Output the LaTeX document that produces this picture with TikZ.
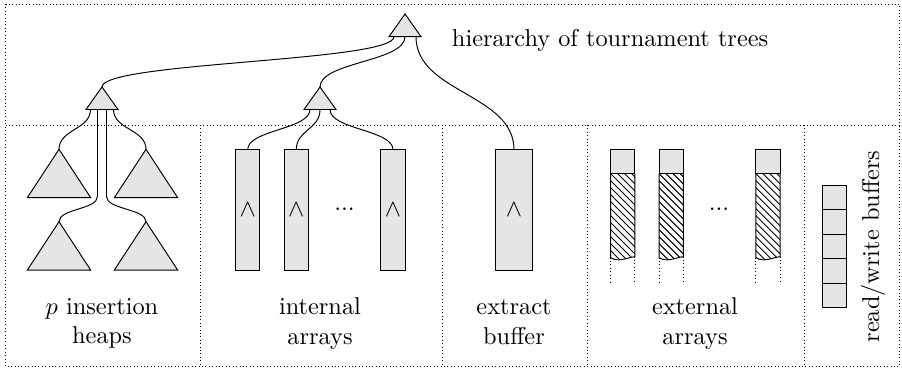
\documentclass[tikz,border=0pt]{standalone}
\usepackage{amsmath}
\usepackage{tikz}
\usetikzlibrary{calc}
\usetikzlibrary{positioning}

% tournament tree: name, apex, half width, height
\newcommand{\tourtree}[4]{%
  \filldraw[tree] (#2) coordinate (#1) -- ++(-#3,#4) -- ++(#3,0) coordinate (#1-b) -- ++(#3,0) -- cycle;
}

\begin{document}
\begin{tikzpicture}[x=0.4107pt,y=-0.4107pt,
    frame/.style={densely dotted},
    tree/.style={fill=black!10,draw=black},
    arr/.style={draw,fill=black!10,minimum width=10pt,minimum height=49.5pt,inner sep=0pt,outer sep=0pt},
    cell/.style={draw,fill=black!10,minimum width=10pt,minimum height=10pt,inner sep=0pt,outer sep=0pt},
    lbl/.style={align=center,inner sep=0pt}]
  % Constants
  \pgfmathsetmacro\hw{31.7}
  \pgfmathsetmacro\hh{48.4}
  % Boundary
  \path[use as bounding box] (0,0) rectangle (902,369);
  % Compartments
  \draw[frame] (5.5,4) rectangle (899.5,366.5);
  \draw[frame] (5.5,125) -- (899.5,125);
  \foreach \x in {200,442,587,804}
    \draw[frame] (\x,125) -- (\x,366.5);
  % Tournament trees
  \tourtree{root}{405,14}{16}{22.7}
  \tourtree{ins}{102,87}{16}{22.5}
  \tourtree{int}{320,87}{16}{22.5}
  % Insertion heaps
  \tourtree{h1}{59,149.3}{\hw}{\hh}
  \tourtree{h2}{146,149.3}{\hw}{\hh}
  \tourtree{h3}{59,221.7}{\hw}{\hh}
  \tourtree{h4}{146,221.7}{\hw}{\hh}
  % Internal arrays and extract buffer
  \node[arr] (ia1) at (247.7,210) {$\wedge$};
  \node[arr] (ia2) at (296.3,210) {$\wedge$};
  \node[arr] (ia3) at (393,210) {$\wedge$};
  \node[inner sep=0pt] (idots) at (344.5,209.5) {...};
  \node[arr,minimum width=15pt] (eb) at (514,210) {$\wedge$};
  % External arrays
  \foreach \x/\n in {622.8/ea1,671.2/ea2,768/ea3}{
    \node[cell,anchor=north] (\n) at (\x,149.3) {};
    \begin{scope}
      \clip (\n.south west) -- (\n.south east) -- ++(0,83) coordinate (\n-r)
        .. controls +(-8,1) and +(8,5) .. ($(\n.south west)+(0,84)$) coordinate (\n-l) -- cycle;
      \foreach \k in {-112,-105,...,28}
        \draw ($(\n.south west)+(\k,0)$) -- ++(112,112);
    \end{scope}
    \draw (\n.south west) -- (\n-l) .. controls +(8,5) and +(-8,1) .. (\n-r) -- (\n.south east);
    \draw[densely dotted] (\n-l) -- ++(0,24.5);
    \draw[densely dotted] (\n-r) -- ++(0,25.5);
  }
  \node[inner sep=0pt] (edots) at (719,209.5) {...};
  % Read/write buffers
  \node[cell] (rw1) at (834.5,197.8) {};
  \foreach \i [remember=\i as \j (initially 1)] in {2,...,5}
    \node[cell,below=0pt of rw\j] (rw\i) {};
  % Connections
  \draw ($(root-b)+(-11,0)$) .. controls +(0,25) and +(0,-25) .. (ins);
  \draw (root-b) .. controls +(0,25) and +(0,-25) .. (int);
  \draw ($(root-b)+(11,0)$) .. controls +(0,56) and +(0,-56) .. (eb.north);
  \draw ($(ins-b)+(-11.5,0)$) .. controls +(0,20) and +(0,-20) .. (h1);
  \draw ($(ins-b)+(11.5,0)$) .. controls +(0,20) and +(0,-20) .. (h2);
  \draw ($(ins-b)+(-4.5,0)$) -- ++(0,87) .. controls +(0,13) and +(0,-13) .. (h3);
  \draw ($(ins-b)+(4.5,0)$) -- ++(0,87) .. controls +(0,13) and +(0,-13) .. (h4);
  \draw ($(int-b)+(-10,0)$) .. controls +(0,20) and +(0,-20) .. (ia1.north);
  \draw (int-b) .. controls +(0,20) and +(0,-20) .. (ia2.north);
  \draw ($(int-b)+(10,0)$) .. controls +(0,20) and +(0,-20) .. (ia3.north);
  % Labels
  \node[anchor=base west,inner sep=0pt] (title) at (451.5,46.7) {hierarchy of tournament trees};
  \node[lbl] (lins) at (102,323.5) {$p$ insertion\\heaps};
  \node[lbl] (lint) at (320,323.5) {internal\\arrays};
  \node[lbl] (lext) at (514,322.1) {extract\\buffer};
  \node[lbl] (learr) at (695,323.5) {external\\arrays};
  \node[rotate=90,inner sep=0pt] (lrw) at (873,246.5) {read/write buffers};
\end{tikzpicture}
\end{document}
